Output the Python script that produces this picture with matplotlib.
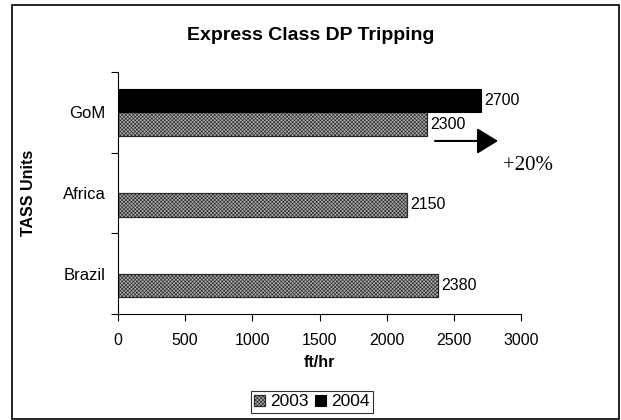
"""
Express Class DP Tripping - horizontal grouped bar chart
"""
import matplotlib
matplotlib.use('Agg')
import matplotlib.pyplot as plt
from matplotlib.patches import Rectangle
import numpy as np

plt.rcParams['font.family'] = ['Liberation Sans', 'DejaVu Sans']
plt.rcParams['hatch.linewidth'] = 0.45

# data (bottom to top, as in the original)
regions = ['Brazil', 'Africa', 'GoM']
rate_2003 = [2380, 2150, 2300]
rate_2004 = [0, 0, 2700]
years = ['2003', '2004']
x_ticks = [0, 500, 1000, 1500, 2000, 2500, 3000]

fig = plt.figure(figsize=(6.21, 4.2), dpi=100)
ax = fig.add_axes([118 / 621, 106 / 420, 403 / 621, 242 / 420])

y = np.arange(len(regions))
h = 0.295

bars1 = ax.barh(y - h / 2, rate_2003, h, color='#ababab', edgecolor='#2a2a2a',
                linewidth=0.9, hatch='xxxxxxxxx', label=years[0])
mask = [v > 0 for v in rate_2004]
bars2 = ax.barh(y[mask] + h / 2, np.array(rate_2004)[mask], h, color='black',
                edgecolor='black', linewidth=0.8, label=years[1])

# value labels
for bar in list(bars1) + list(bars2):
    w = bar.get_width()
    ax.text(w + 28, bar.get_y() + bar.get_height() / 2, f'{w:.0f}',
            ha='left', va='center', fontsize=11.5)

# axes styling
ax.set_xlim(0, 3000)
ax.set_ylim(-0.5, 2.5)
ax.set_xticks(x_ticks)
ax.set_xticklabels([str(t) for t in x_ticks], fontsize=11.5)
ax.set_yticks([-0.5, 0.5, 1.5, 2.5])
ax.set_yticklabels([])
ax.set_yticks(y, minor=True)
ax.set_yticklabels(regions, minor=True, fontsize=12)
ax.tick_params(axis='y', which='minor', length=0, pad=9)
ax.tick_params(axis='y', which='major', length=5, direction='out', width=0.8)
ax.tick_params(axis='x', length=5, direction='out', width=0.8, pad=9)
ax.spines['top'].set_visible(False)
ax.spines['right'].set_visible(False)

ax.set_xlabel('ft/hr', fontsize=11.5, weight='bold', labelpad=5)
ax.set_ylabel('TASS Units', fontsize=11.5, weight='bold')
ax.yaxis.set_label_coords(-0.203, 0.5)
fig.text(0.5, 1 - 35 / 420, 'Express Class DP Tripping', ha='center',
         va='center', fontsize=14, weight='bold')

# +20% arrow annotation
ax.annotate('', xy=(2829, 1.645), xytext=(2360, 1.645),
            arrowprops=dict(arrowstyle='-|>,head_length=1.3,head_width=0.8',
                            color='black', lw=1.5, shrinkA=0, shrinkB=0),
            annotation_clip=False)
ax.text(3053, 1.347, '+20%', ha='center', va='center', fontsize=15,
        family='Liberation Serif', clip_on=False)

leg = fig.legend(handles=[bars1, bars2], labels=years, loc='center',
                 bbox_to_anchor=(312 / 621, 1 - 402 / 420), ncol=2,
                 fontsize=12.5, frameon=True, fancybox=False, edgecolor='black',
                 handlelength=0.6, handleheight=0.6, handletextpad=0.3,
                 columnspacing=0.4, borderpad=0.22)
leg.get_frame().set_linewidth(0.8)

# outer chart border
fig.patches.append(Rectangle((12 / 621, 1 / 420), 607 / 621, 414 / 420,
                             transform=fig.transFigure, fill=False,
                             edgecolor='black', linewidth=1.2))

fig.savefig('out.png', dpi=100)
